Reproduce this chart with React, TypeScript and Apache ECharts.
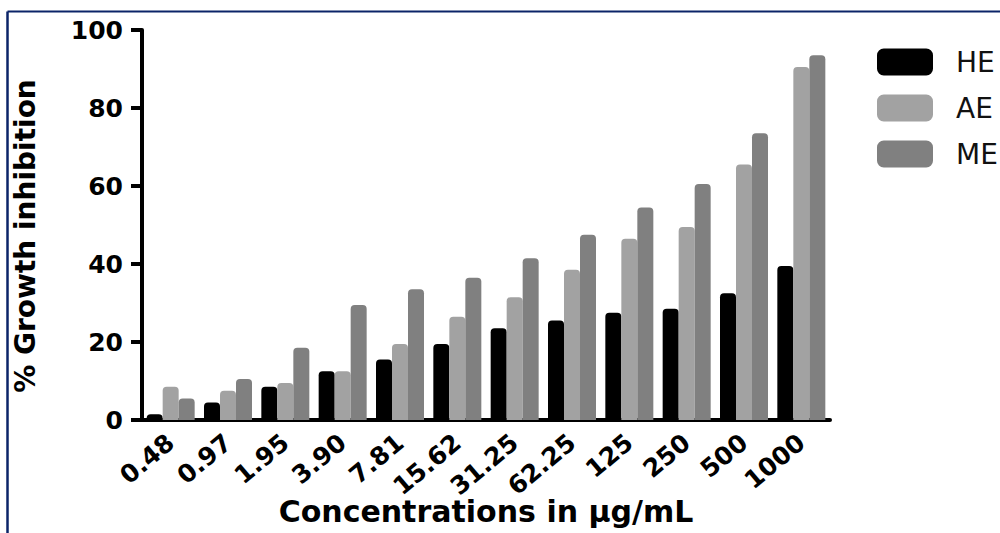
import React, { useEffect, useRef } from "react";
import * as echarts from "echarts";

const categories = ["0.48", "0.97", "1.95", "3.90", "7.81", "15.62", "31.25", "62.25", "125", "250", "500", "1000"];
const heValues = [1.5, 4.5, 8.5, 12.5, 15.5, 19.5, 23.5, 25.5, 27.5, 28.5, 32.5, 39.5];
const aeValues = [8.5, 7.5, 9.5, 12.5, 19.5, 26.5, 31.5, 38.5, 46.5, 49.5, 65.5, 90.5];
const meValues = [5.5, 10.5, 18.5, 29.5, 33.5, 36.5, 41.5, 47.5, 54.5, 60.5, 73.5, 93.5];
const seriesNames = ["HE", "AE", "ME"];
const seriesColors = ["#000000", "#a2a2a2", "#808080"];
const yTicks = { min: 0, max: 100, interval: 20 };

export default function App() {
  const ref = useRef<HTMLDivElement>(null);
  useEffect(() => {
    if (!ref.current) return;
    const chart = echarts.init(ref.current, null, { renderer: "svg" });
    const font = "DejaVu Sans";
    const data = [heValues, aeValues, meValues];
    chart.setOption({
      animation: false,
      backgroundColor: "#ffffff",
      grid: { left: 142, right: 170, top: 30, bottom: 113, containLabel: false, outerBoundsMode: "none" },
      legend: {
        orient: "vertical",
        left: 872,
        top: 43,
        itemWidth: 56,
        itemHeight: 27,
        itemGap: 18,
        icon: "roundRect",
        data: seriesNames,
        textStyle: {
          fontFamily: font,
          fontSize: 28,
          color: "#111",
          lineHeight: 27,
          padding: [0, 0, 0, 18],
        },
      },
      xAxis: {
        type: "category",
        data: categories,
        name: "Concentrations in µg/mL",
        nameLocation: "middle",
        nameGap: 74,
        nameMoveOverlap: false,
        nameTextStyle: { fontFamily: font, fontWeight: "bold", fontSize: 30, color: "#000", lineHeight: 34 },
        axisLine: { lineStyle: { color: "#000", width: 4 } },
        axisTick: { alignWithLabel: true, length: 10, lineStyle: { color: "#000", width: 4 } },
        axisLabel: {
          rotate: 40,
          margin: 19,
          interval: 0,
          fontFamily: font,
          fontWeight: "bold",
          fontSize: 25,
          color: "#000",
        },
      },
      yAxis: {
        type: "value",
        min: yTicks.min,
        max: yTicks.max,
        interval: yTicks.interval,
        name: "% Growth inhibition",
        nameLocation: "middle",
        nameGap: 102,
        nameMoveOverlap: false,
        nameTextStyle: {
          fontFamily: font,
          fontWeight: "bold",
          fontSize: 28,
          color: "#000",
          lineHeight: 30,
          padding: [0, 22, 0, 0],
        },
        splitLine: { show: false },
        axisLine: { show: true, lineStyle: { color: "#000", width: 4 } },
        axisTick: { show: true, length: 11, lineStyle: { color: "#000", width: 4 } },
        axisLabel: { margin: 19, fontFamily: font, fontWeight: "bold", fontSize: 25, color: "#000" },
      },
      series: seriesNames.map((name, i) => ({
        name,
        type: "bar",
        data: data[i],
        barWidth: 16,
        barGap: "0%",
        itemStyle: { color: seriesColors[i], borderRadius: [4, 4, 0, 0] },
      })),
      graphic: [
        { type: "line", shape: { x1: 7.5, y1: 11.5, x2: 1000, y2: 11.5 }, style: { stroke: "#0b2468", lineWidth: 2 } },
        { type: "line", shape: { x1: 7.5, y1: 11.5, x2: 7.5, y2: 533 }, style: { stroke: "#0b2468", lineWidth: 2.5 } },
      ],
    });
    return () => chart.dispose();
  }, []);
  return (
    <div
      ref={ref}
      style={{ position: "fixed", left: 0, top: 0, width: 1000, height: 533, background: "#fff" }}
    />
  );
}
